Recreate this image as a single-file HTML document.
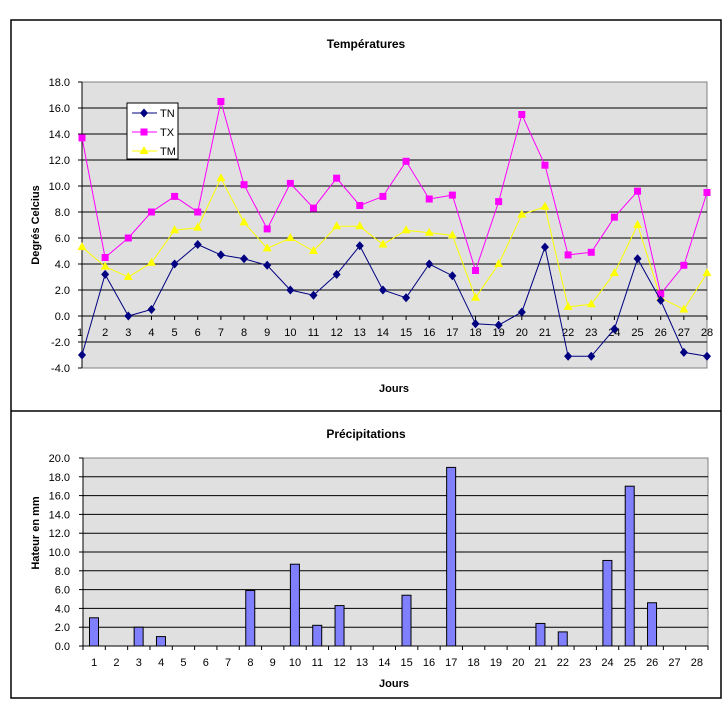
<!DOCTYPE html>
<html><head><meta charset="utf-8"><style>
html,body{margin:0;padding:0;background:#fff;width:725px;height:704px;overflow:hidden}
svg{display:block;font-family:"Liberation Sans",Arial,sans-serif}
</style></head><body>
<svg id="s" width="725" height="704" xmlns="http://www.w3.org/2000/svg"></svg>
<script>
var s=document.getElementById('s'),h='';
h+='<rect x="11" y="20" width="710" height="678" fill="#fff" stroke="#000" stroke-width="1.5"/>';
h+='<line x1="11" y1="411" x2="721" y2="411" stroke="#000" stroke-width="1.5"/>';
var L=82,R=707,T=82,B=368;
function yT(v){return 316-v*13;}
h+='<rect x="'+L+'" y="'+T+'" width="'+(R-L)+'" height="'+(B-T)+'" fill="#e0e0e0" stroke="#808080"/>';
for(var v=-4;v<=18;v+=2){var y=yT(v);
 if(v>-4&&v<18)h+='<line x1="'+L+'" y1="'+y+'" x2="'+R+'" y2="'+y+'" stroke="#000"/>';
 h+='<line x1="'+(L-4)+'" y1="'+y+'" x2="'+L+'" y2="'+y+'" stroke="#000"/>';
 h+='<text x="70" y="'+(y+4)+'" font-size="11" text-anchor="end">'+v.toFixed(1)+'</text>';}
h+='<line x1="'+L+'" y1="'+T+'" x2="'+L+'" y2="'+B+'" stroke="#000"/>';
var dx=(R-L)/27;
for(var i=0;i<28;i++){var x=L+i*dx;
 h+='<line x1="'+x+'" y1="316" x2="'+x+'" y2="320" stroke="#000"/>';
 h+='<text x="'+(i==0?x-2:x)+'" y="336" font-size="11" text-anchor="middle">'+(i+1)+'</text>';}
var TN=[-3.0,3.2,0.0,0.5,4.0,5.5,4.7,4.4,3.9,2.0,1.6,3.2,5.4,2.0,1.4,4.0,3.1,-0.6,-0.7,0.3,5.3,-3.1,-3.1,-1.0,4.4,1.2,-2.8,-3.1];
var TX=[13.7,4.5,6.0,8.0,9.2,8.0,16.5,10.1,6.7,10.2,8.3,10.6,8.5,9.2,11.9,9.0,9.3,3.5,8.8,15.5,11.6,4.7,4.9,7.6,9.6,1.7,3.9,9.5];
var TM=[5.3,3.8,3.0,4.1,6.6,6.8,10.6,7.2,5.2,6.0,5.0,6.9,6.9,5.5,6.6,6.4,6.2,1.4,4.0,7.8,8.4,0.7,0.9,3.3,7.0,1.4,0.5,3.3];
function mk(t,x,y,c){
 if(t==0)return '<polygon points="'+x+','+(y-4.5)+' '+(x+4)+','+y+' '+x+','+(y+4.5)+' '+(x-4)+','+y+'" fill="'+c+'"/>';
 if(t==1)return '<rect x="'+(x-3.5)+'" y="'+(y-3.5)+'" width="7" height="7" fill="'+c+'"/>';
 return '<polygon points="'+x+','+(y-5)+' '+(x+4.5)+','+(y+3)+' '+(x-4.5)+','+(y+3)+'" fill="'+c+'"/>';}
function ser(d,c,t){var p=d.map(function(v,i){return (L+i*dx).toFixed(1)+','+yT(v).toFixed(1)}).join(' ');
 var r='<polyline points="'+p+'" fill="none" stroke="'+c+'" stroke-width="1"/>';
 d.forEach(function(v,i){r+=mk(t,L+i*dx,yT(v),c)});return r;}
h+=ser(TM,'#ffff00',2)+ser(TX,'#ff00ff',1)+ser(TN,'#000080',0);
h+='<rect x="127" y="103" width="51" height="56" fill="#fff" stroke="#000"/>';
var lg=[['TN','#000080',0],['TX','#ff00ff',1],['TM','#ffff00',2]];
lg.forEach(function(e,i){var y=113+i*19;
 h+='<line x1="132" y1="'+y+'" x2="157" y2="'+y+'" stroke="'+e[1]+'"/>'+mk(e[2],144,y,e[1]);
 h+='<text x="160" y="'+(y+4)+'" font-size="11">'+e[0]+'</text>';});
h+='<text x="366" y="48" font-size="12" font-weight="bold" text-anchor="middle">Températures</text>';
h+='<text x="394" y="392" font-size="11" font-weight="bold" text-anchor="middle">Jours</text>';
h+='<text transform="translate(39,225) rotate(-90)" font-size="11" font-weight="bold" text-anchor="middle">Degrés Celcius</text>';
var L2=83,R2=708,T2=458,B2=646;
function yB(v){return B2-v*(B2-T2)/20;}
h+='<rect x="'+L2+'" y="'+T2+'" width="'+(R2-L2)+'" height="'+(B2-T2)+'" fill="#e0e0e0" stroke="#808080"/>';
for(var v=0;v<=20;v+=2){var y=yB(v);
 if(v>0&&v<20)h+='<line x1="'+L2+'" y1="'+y+'" x2="'+R2+'" y2="'+y+'" stroke="#000"/>';
 h+='<line x1="'+(L2-4)+'" y1="'+y+'" x2="'+L2+'" y2="'+y+'" stroke="#000"/>';
 h+='<text x="70" y="'+(y+4)+'" font-size="11" text-anchor="end">'+v.toFixed(1)+'</text>';}
h+='<line x1="'+L2+'" y1="'+T2+'" x2="'+L2+'" y2="'+B2+'" stroke="#000"/>';
h+='<line x1="'+L2+'" y1="'+B2+'" x2="'+R2+'" y2="'+B2+'" stroke="#000"/>';
var dx2=(R2-L2)/28;
var P={1:3.0,3:2.0,4:1.0,8:5.9,10:8.7,11:2.2,12:4.3,15:5.4,17:19.0,21:2.4,22:1.5,24:9.1,25:17.0,26:4.6};
for(var i=0;i<=28;i++){var x=L2+i*dx2;
 h+='<line x1="'+x+'" y1="'+B2+'" x2="'+x+'" y2="'+(B2+4)+'" stroke="#000"/>';
 if(i<28)h+='<text x="'+(x+dx2/2)+'" y="666" font-size="11" text-anchor="middle">'+(i+1)+'</text>';}
for(var k in P){var x=L2+(k-1)*dx2+6.5,y=yB(P[k]);
 h+='<rect x="'+x+'" y="'+y+'" width="9" height="'+(B2-y)+'" fill="#8080ff" stroke="#000"/>';}
h+='<text x="366" y="438" font-size="12" font-weight="bold" text-anchor="middle">Précipitations</text>';
h+='<text x="394" y="687" font-size="11" font-weight="bold" text-anchor="middle">Jours</text>';
h+='<text transform="translate(39,533) rotate(-90)" font-size="11" font-weight="bold" text-anchor="middle">Hateur en mm</text>';
s.innerHTML=h;
</script>
</body></html>
